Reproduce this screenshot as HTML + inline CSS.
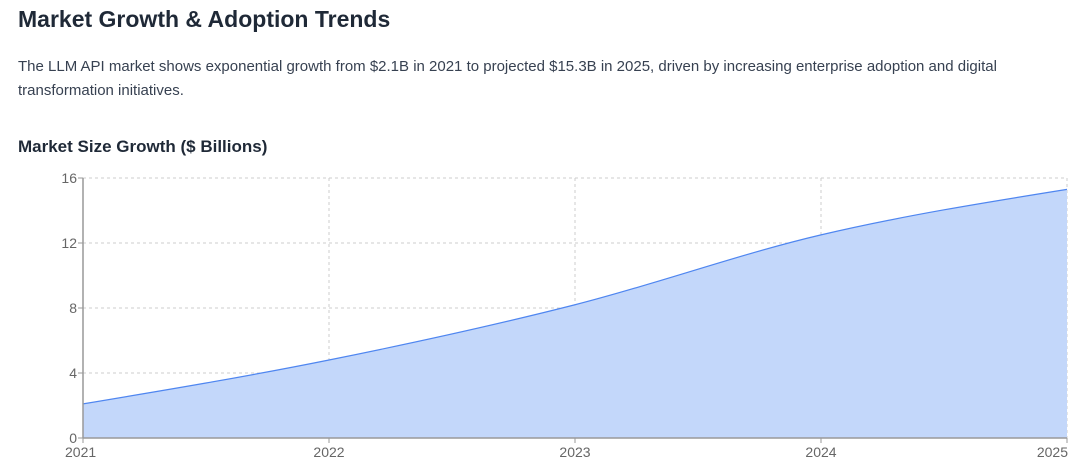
<!DOCTYPE html>
<html><head><meta charset="utf-8"><style>
body{margin:0;background:#fff;font-family:"Liberation Sans",sans-serif;width:1092px;height:475px;overflow:hidden;position:relative}
h1{position:absolute;left:18px;top:6px;margin:0;font-size:23px;font-weight:bold;color:#1f2937}
p{position:absolute;left:18px;top:55px;margin:0;width:1060px;font-size:15px;line-height:24px;color:#374151}
h2{position:absolute;left:18px;top:137px;margin:0;font-size:17px;font-weight:bold;color:#1f2937}
svg{position:absolute;left:0;top:0}
</style></head><body>
<h1>Market Growth &amp; Adoption Trends</h1>
<p>The LLM API market shows exponential growth from $2.1B in 2021 to projected $15.3B in 2025, driven by increasing enterprise adoption and digital transformation initiatives.</p>
<h2>Market Size Growth ($ Billions)</h2>
<svg id="chart" width="1092" height="475"></svg>
<script>
const years=["2021","2022","2023","2024","2025"];
const marketSize=[2.1,4.8,8.2,12.5,15.3];
const yTicks=[0,4,8,12,16];
const X0=83,X1=1067,Y0=438,Y1=178,YMAX=16;
const sx=i=>X0+(X1-X0)*i/(years.length-1);
const sy=v=>Y0-(Y0-Y1)*v/YMAX;
const svg=document.getElementById('chart');
const NS='http://www.w3.org/2000/svg';
function mk(t,a){const e=document.createElementNS(NS,t);for(const k in a)e.setAttribute(k,a[k]);svg.appendChild(e);return e;}
// grid
yTicks.forEach(t=>{if(t>0){const g=mk('line',{x1:X0,x2:X1,y1:sy(t),y2:sy(t),stroke:'#ccc','stroke-dasharray':'3 3'});

}});
years.forEach((y,i)=>{if(i>0){const g=mk('line',{x1:sx(i),x2:sx(i),y1:Y1,y2:Y0,stroke:'#ccc','stroke-dasharray':'3 3'});

}});
// monotone path
const px=years.map((_,i)=>sx(i)),py=marketSize.map(sy);
const n=px.length,d=[],m=[];
for(let i=0;i<n-1;i++)d.push((py[i+1]-py[i])/(px[i+1]-px[i]));
m[0]=d[0];m[n-1]=d[n-2];
for(let i=1;i<n-1;i++){m[i]=d[i-1]*d[i]<=0?0:3*(d[i-1]+d[i])/((2*d[i]+d[i-1])/d[i-1]*0+ (d[i-1]+d[i])/1*0+ ( (1/d[i-1]+1/d[i]) *  ( (d[i-1]+d[i]) )  ) ); }
for(let i=1;i<n-1;i++){const h0=px[i]-px[i-1],h1=px[i+1]-px[i];const p=(d[i-1]*h1+d[i]*h0)/(h0+h1);m[i]=d[i-1]*d[i]<=0?0:(Math.sign(d[i-1])+Math.sign(d[i]))*Math.min(Math.abs(d[i-1]),Math.abs(d[i]),0.5*Math.abs(p));}
m[0]=(3*d[0]-m[1])/2;m[n-1]=(3*d[n-2]-m[n-2])/2;
let dp=`M${px[0]},${py[0]}`;
for(let i=0;i<n-1;i++){const h=(px[i+1]-px[i])/3;dp+=`C${px[i]+h},${py[i]+m[i]*h} ${px[i+1]-h},${py[i+1]-m[i+1]*h} ${px[i+1]},${py[i+1]}`;}
const area=mk('path',{d:dp+`L${px[n-1]},${Y0}L${px[0]},${Y0}Z`,fill:'#c3d7fa'});


const line=mk('path',{d:dp,fill:'none',stroke:'#4f86f0','stroke-width':1.2});


// axes
const ya=mk('line',{x1:X0,x2:X0,y1:Y1,y2:Y0,stroke:'#999','stroke-width':1.5});


const xa=mk('line',{x1:X0,x2:X1,y1:Y0,y2:Y0,stroke:'#999','stroke-width':1.5});


yTicks.forEach(t=>{mk('line',{x1:X0-5,x2:X0,y1:sy(t),y2:sy(t),stroke:'#999'});
const tx=mk('text',{x:X0-6,y:sy(t)+5,'text-anchor':'end','font-size':14,fill:'#666','font-family':'Liberation Sans, sans-serif'});tx.textContent=t;

});
years.forEach((y,i)=>{mk('line',{x1:sx(i),x2:sx(i),y1:Y0,y2:Y0+5,stroke:'#999'});
const anc=i==0?'start':i==n-1?'end':'middle';
const tx=mk('text',{x:sx(i)+(i==0?-17:i==n-1?1:0),y:Y0+19,'text-anchor':i==0?'start':anc,'font-size':14,fill:'#666','font-family':'Liberation Sans, sans-serif'});tx.textContent=y;
if(i==0)tx.setAttribute('x',X0-18);

});
</script>
</body></html>
